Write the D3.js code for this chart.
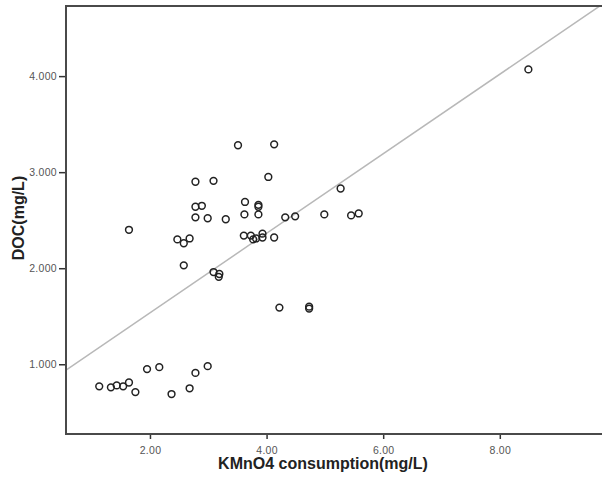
<!DOCTYPE html>
<html lang="en">
<head>
<meta charset="UTF-8">
<title>DOC vs KMnO4 consumption</title>
<script src="https://d3js.org/d3.v7.min.js"></script>
<style>
    body { margin: 0; background: #fff; }
    .tick text { font-family: "Liberation Sans", Arial, sans-serif; font-size: 10.5px; fill: #555; letter-spacing: 0.3px; }
    .tick line { stroke: #333; stroke-width: 1.5; }
    .title { font-family: "Liberation Sans", Arial, sans-serif; font-size: 16px; font-weight: bold; fill: #222; }
</style>
</head>
<body>
<svg id="chart" width="602" height="482"></svg>
<script>
    // KMnO4 consumption (mg/L)
    const kmno4 = [1.13, 1.33, 1.43, 1.54, 1.64, 1.75, 1.95, 2.16, 2.37, 2.68, 2.78, 2.99,
        1.64, 2.47, 2.68, 2.58, 2.58, 3.09, 3.19, 3.18, 2.78, 3.09, 3.51, 4.13, 4.03, 3.63,
        2.78, 2.89, 3.86, 3.86, 2.78, 2.99, 3.30, 3.62, 3.86, 4.32, 4.49, 4.99, 5.27, 5.45,
        5.58, 3.61, 3.73, 3.77, 3.82, 3.93, 3.93, 4.13, 4.22, 4.73, 4.73, 8.49];
    // DOC (mg/L)
    const doc = [0.77, 0.76, 0.78, 0.77, 0.81, 0.71, 0.95, 0.97, 0.69, 0.75, 0.91, 0.98,
        2.40, 2.30, 2.31, 2.26, 2.03, 1.96, 1.94, 1.91, 2.90, 2.91, 3.28, 3.29, 2.95, 2.69,
        2.64, 2.65, 2.66, 2.64, 2.53, 2.52, 2.51, 2.56, 2.56, 2.53, 2.54, 2.56, 2.83, 2.55,
        2.57, 2.34, 2.34, 2.30, 2.31, 2.36, 2.32, 2.32, 1.59, 1.60, 1.58, 4.07];

    const xTicks = [2, 4, 6, 8];
    const yTicks = [1, 2, 3, 4];

    // linear fit line drawn in the chart
    const fitIntercept = 0.708;
    const fitSlope = 0.414;

    const plotLeft = 66, plotRight = 610, plotTop = 6, plotBottom = 434;

    const svg = d3.select("#chart");

    const x = d3.scaleLinear().domain([0.56, 9.89]).range([plotLeft, plotRight]);
    const y = d3.scaleLinear().domain([0.274, 4.73]).range([plotBottom, plotTop]);

    svg.append("clipPath").attr("id", "plot")
        .append("rect")
        .attr("x", plotLeft).attr("y", plotTop)
        .attr("width", plotRight - plotLeft).attr("height", plotBottom - plotTop);

    // fit line
    const xd = x.domain();
    svg.append("line")
        .attr("clip-path", "url(#plot)")
        .attr("x1", x(xd[0])).attr("y1", y(fitIntercept + fitSlope * xd[0]))
        .attr("x2", x(xd[1])).attr("y2", y(fitIntercept + fitSlope * xd[1]))
        .attr("stroke", "#b8b8b8")
        .attr("stroke-width", 1.5);

    // points
    svg.append("g")
        .selectAll("circle")
        .data(kmno4.map((v, i) => [v, doc[i]]))
        .enter()
        .append("circle")
        .attr("cx", d => x(d[0]))
        .attr("cy", d => y(d[1]))
        .attr("r", 3.4)
        .attr("fill", "none")
        .attr("stroke", "#222")
        .attr("stroke-width", 1.5);

    // axes
    const xAxis = svg.append("g")
        .attr("transform", "translate(0," + plotBottom + ")")
        .call(d3.axisBottom(x).tickValues(xTicks).tickFormat(d3.format(".2f")).tickSize(5).tickPadding(8));
    xAxis.select(".domain").remove();

    const yAxis = svg.append("g")
        .attr("transform", "translate(" + plotLeft + ",0)")
        .call(d3.axisLeft(y).tickValues(yTicks).tickFormat(d3.format(".3f")).tickSize(7).tickPadding(2));
    yAxis.select(".domain").remove();

    // frame
    svg.append("rect")
        .attr("x", plotLeft).attr("y", plotTop)
        .attr("width", plotRight - plotLeft).attr("height", plotBottom - plotTop)
        .attr("fill", "none")
        .attr("stroke", "#4a4a4a")
        .attr("stroke-width", 2);

    svg.append("text")
        .attr("class", "title")
        .attr("x", 323).attr("y", 469)
        .attr("text-anchor", "middle")
        .text("KMnO4 consumption(mg/L)");

    svg.append("text")
        .attr("class", "title")
        .attr("transform", "translate(24,218) rotate(-90)")
        .attr("text-anchor", "middle")
        .text("DOC(mg/L)");
</script>
</body>
</html>
